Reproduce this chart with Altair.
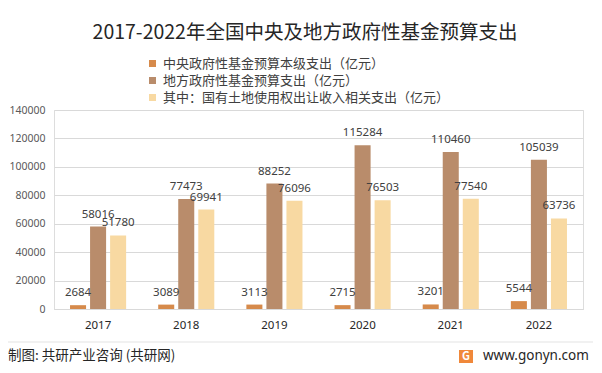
import altair as alt
import pandas as pd

years = ["2017", "2018", "2019", "2020", "2021", "2022"]
series = ["中央政府性基金预算本级支出（亿元）", "地方政府性基金预算支出（亿元）", "其中：国有土地使用权出让收入相关支出（亿元）"]
central = [2684, 3089, 3113, 2715, 3201, 5544]
local = [58016, 77473, 88252, 115284, 110460, 105039]
land = [51780, 69941, 76096, 76503, 77540, 63736]
colors = ["#D68A4B", "#B98C6B", "#F8D9A2"]
y_ticks = [0, 20000, 40000, 60000, 80000, 100000, 120000, 140000]

rows = []
for vals, s in zip([central, local, land], series):
    for y, v in zip(years, vals):
        rows.append({"year": y, "series": s, "value": v})
df = pd.DataFrame(rows)

FONT = "Noto Sans CJK SC"
NUM = "Noto Sans"

x = alt.X("year:N", sort=years, title=None,
          scale=alt.Scale(paddingInner=0, paddingOuter=0),
          axis=alt.Axis(labelAngle=0, labelFontSize=11.5, labelColor="#262626", labelPadding=10,
                        ticks=False, domain=True, domainColor="#D9D9D9", labelFont=NUM))
xo = alt.XOffset("series:N", sort=series, scale=alt.Scale(paddingInner=0.2, paddingOuter=0.8))
y = alt.Y("value:Q", title=None,
          scale=alt.Scale(domain=[0, 140000], nice=False),
          axis=alt.Axis(values=y_ticks, format="d", labelFontSize=10.5, labelColor="#595959",
                        labelPadding=9, ticks=False, domain=False, gridColor="#D9D9D9",
                        labelFont=NUM))

bars = alt.Chart(df).mark_bar().encode(
    x=x, xOffset=xo, y=y,
    color=alt.Color("series:N", sort=series,
                    scale=alt.Scale(domain=series, range=colors),
                    legend=alt.Legend(title=None, orient="none", legendX=92, legendY=-53,
                                      symbolType="square", symbolSize=49, symbolStrokeWidth=0,
                                      labelFontSize=13, labelColor="#404040", labelFont=FONT,
                                      rowPadding=3, labelOffset=4, labelLimit=400)),
)

labels = alt.Chart(df).mark_text(baseline="alphabetic", dy=-9, fontSize=11.5, color="#404040", font=NUM).encode(
    x=x, xOffset=xo, y=y, text=alt.Text("value:Q", format="d"),
)

one = pd.DataFrame({"a": [0]})
title = alt.Chart(one).mark_text(fontSize=19.5, color="#262626", font=FONT, align="center", baseline="middle").encode(
    x=alt.value(251), y=alt.value(-77), text=alt.value("2017-2022年全国中央及地方政府性基金预算支出"))
sep = alt.Chart(one).mark_rule(color="#E3E3E3", strokeWidth=1).encode(
    x=alt.value(-46), x2=alt.value(539), y=alt.value(232))
footer = alt.Chart(one).mark_text(fontSize=13.5, color="#262626", font=FONT, align="left", baseline="middle").encode(
    x=alt.value(-46), y=alt.value(246), text=alt.value("制图: 共研产业咨询 (共研网)"))
logo = alt.Chart(one).mark_rect(color="#F0883A").encode(
    x=alt.value(405), x2=alt.value(419), y=alt.value(240), y2=alt.value(253))
logo_g = alt.Chart(one).mark_text(fontSize=11, color="white", font=FONT, fontWeight="bold", align="center", baseline="middle").encode(
    x=alt.value(412), y=alt.value(246.5), text=alt.value("G"))
site = alt.Chart(one).mark_text(fontSize=13.5, color="#262626", font=NUM, align="left", baseline="middle").encode(
    x=alt.value(429), y=alt.value(246), text=alt.value("www.gonyn.com"))

chart = alt.layer(bars, labels, title, sep, footer, logo, logo_g, site).properties(
    width=529, height=199, autosize="none",
    padding={"left": 46, "top": 102, "right": 11, "bottom": 55},
).configure_view(stroke=None).configure(background="white")

chart.save("out.html", embed_options={"renderer": "svg", "actions": False})
